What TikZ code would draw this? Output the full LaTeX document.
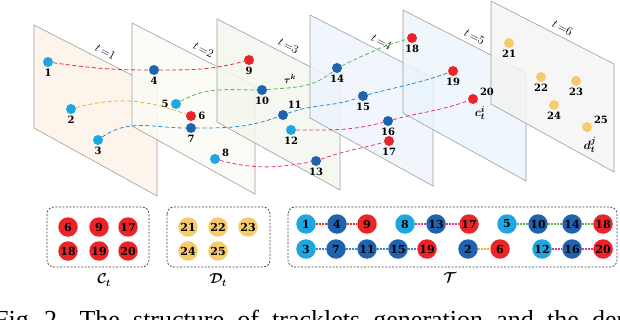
\documentclass[tikz,border=0pt]{standalone}
\usepackage{amsmath}
\usepackage{fontspec}
\newfontfamily\numfont{DejaVu Serif}
\newfontfamily\capfont{Liberation Serif}
\usetikzlibrary{calc}

\definecolor{lblue}{HTML}{1DA6E0}
\definecolor{dblue}{HTML}{1F62AE}
\definecolor{pred}{HTML}{EC2427}
\definecolor{pyel}{HTML}{F6CB6C}
\definecolor{tred}{HTML}{E8302C}
\definecolor{tyel}{HTML}{F2B22E}
\definecolor{tblue}{HTML}{2D8ED6}
\definecolor{tgreen}{HTML}{5CB65A}
\definecolor{tpink}{HTML}{E5367F}
\definecolor{pla}{HTML}{FDF2E8}
\definecolor{plb}{HTML}{FAFCF5}
\definecolor{plc}{HTML}{F2F7ED}
\definecolor{pld}{HTML}{EEF5FC}
\definecolor{ple}{HTML}{ECF4FB}
\definecolor{plf}{HTML}{F4F4F4}

\pgfdeclarelayer{bg}
\pgfdeclarelayer{mid}
\pgfsetlayers{bg,mid,main}

\tikzset{
  dot/.style={circle, inner sep=0pt, minimum size=10pt, fill=#1},
  lab/.style={inner sep=1pt, font=\numfont\bfseries\fontsize{10}{11}\selectfont},
  ball/.style={circle, inner sep=0pt, minimum size=19.5pt, fill=#1, font=\numfont\bfseries\fontsize{11}{12}\selectfont},
  trk/.style={#1, line width=0.8pt, dash pattern=on 4pt off 2.5pt},
  lnk/.style={#1, line width=1.4pt, dash pattern=on 2pt off 1pt},
  setbox/.style={draw=black!75, line width=0.7pt, dash pattern=on 2pt off 1.5pt, rounded corners=7pt},
  plane/.style={draw=black!38, line width=0.6pt, fill=#1, fill opacity=0.85, text opacity=1},
}

\begin{document}
\begin{tikzpicture}[x=1pt, y=1pt]
  \useasboundingbox (0,0) rectangle (620,-320);
  \clip (0,0) rectangle (620,-320);

  % Frames t=1..6
  \begin{pgfonlayer}{bg}
    \foreach \x/\y/\c/\n in {34/25/pla/1, 132/23/plb/2, 217/19/plc/3, 310/15/pld/4, 403/10/ple/5, 491/1/plf/6}
      \draw[plane=\c] (\x,-\y) -- node[pos=.55, above=1pt, sloped, font=\fontsize{12}{13}\selectfont] {$t\,{=}\n$}
        ++(123,-63) -- ++(0,-108) -- ++(-123,68) -- cycle;
  \end{pgfonlayer}

  % Detections
  \foreach \n/\x/\y/\c/\p in {1/48/62/lblue/below, 2/71/109/lblue/below, 3/98/140/lblue/below,
      4/154/70/dblue/below, 5/176/104/lblue/left, 6/191/116/pred/right, 7/191/128/dblue/below,
      8/215/159/lblue/15, 9/249/60/pred/below, 10/262/90/dblue/below, 11/283/115/dblue/55,
      12/291/130/lblue/below, 13/316/161/dblue/below, 14/337/68/dblue/below, 15/363/96/dblue/below,
      16/388/121/dblue/below, 17/389/141/pred/below, 18/412/38/pred/below, 19/453/71/pred/below,
      20/473/99/pred/20, 21/509/43/pyel/below, 22/541/77/pyel/below, 23/576/81/pyel/below,
      24/554/105/pyel/below, 25/587/127/pyel/20}
    \node[dot=\c, label={[lab, label distance=1pt]\p:\n}] (p\n) at (\x,-\y) {};
  \node[font=\fontsize{13}{14}\selectfont] (ci) at (480,-113) {$\boldsymbol{c}_{\boldsymbol{t}}^{\boldsymbol{i}}$};
  \node[font=\fontsize{13}{14}\selectfont] (dj) at (590,-145) {$\boldsymbol{d}_{\boldsymbol{t}}^{\boldsymbol{j}}$};
  \node (tau) at (290,-79) {$\boldsymbol{\tau}^{\boldsymbol{k}}$};

  % Tracklets
  \begin{pgfonlayer}{mid}
    \draw[trk=tred] (p1) to[out=-8,in=180] (p4) to[out=0,in=195] (p9);
    \draw[trk=tyel] (p2) to[out=15,in=160] (p6);
    \draw[trk=tblue] (p3) to[out=35,in=180] (p7) to[out=0,in=200] (p11) to[out=20,in=200] (p15) to[out=15,in=200] (p19);
    \draw[trk=tgreen] (p5) to[out=30,in=180] (p10) to[out=5,in=220] (p14) to[out=25,in=195] (p18);
    \draw[trk=tpink] (p8) to[out=-15,in=190] (p13) to[out=20,in=195] (p17);
    \draw[trk=tpink] (p12) to[out=0,in=195] (p16) to[out=15,in=200] (p20);
  \end{pgfonlayer}

  % Sets
  \draw[setbox] (47,-207) rectangle (149,-267);
  \draw[setbox] (167,-207) rectangle (270,-267);
  \draw[setbox] (288,-207) rectangle (617,-267);
  \node[font=\Large] (lc) at (104,-280) {$\boldsymbol{\mathcal{C}_t}$};
  \node[font=\Large] (ld) at (218,-280) {$\boldsymbol{\mathcal{D}_t}$};
  \node[font=\Large] (lt) at (450,-278) {$\boldsymbol{\mathcal{T}}$};

  \foreach \n/\x/\y in {6/68/227, 9/99/227, 17/128/227, 18/68/251, 19/99/251, 20/128/251}
    \node[ball=pred] (c\n) at (\x,-\y) {\n};
  \foreach \n/\x/\y in {21/188/227, 22/218/227, 23/248/227, 24/188/251, 25/218/251}
    \node[ball=pyel] (d\n) at (\x,-\y) {\n};
  \foreach \n/\x/\y/\c in {1/306/224/lblue, 4/337/224/dblue, 9/367/224/pred, 8/405/224/lblue,
      13/436/224/dblue, 17/469/224/pred, 5/507/224/lblue, 10/538/224/dblue, 14/572/224/dblue,
      18/603/224/pred, 3/306/249/lblue, 7/336/249/dblue, 11/367/249/dblue, 15/398/249/dblue,
      19/427/249/pred, 2/468/249/dblue, 6/500/249/pred, 12/542/249/lblue, 16/572/249/dblue, 20/603/249/pred}
    \node[ball=\c] (t\n) at (\x,-\y) {\n};
  \foreach \a/\b/\c in {1/4/tred, 4/9/tred, 8/13/tpink, 13/17/tpink, 5/10/tgreen, 10/14/tgreen,
      14/18/tgreen, 3/7/tblue, 7/11/tblue, 11/15/tblue, 15/19/tblue, 2/6/tyel, 12/16/tpink, 16/20/tpink}
    \draw[lnk=\c] (t\a) -- (t\b);

  % Caption (cut off)
  \node[anchor=base west, inner sep=0pt, font=\capfont\fontsize{26}{28}\selectfont] (cap) at (-6,-328)
    {Fig. 2.\hspace{16pt}\makebox[550pt][s]{The structure of tracklets generation and the dep}};
\end{tikzpicture}
\end{document}
